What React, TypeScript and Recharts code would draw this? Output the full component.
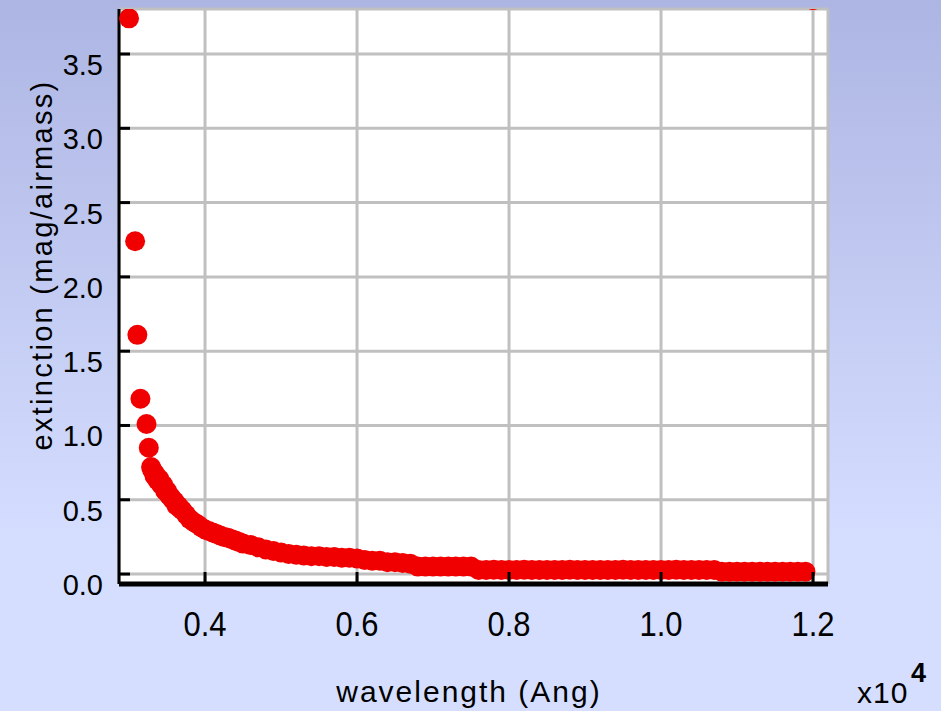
import { CartesianGrid, Scatter, ScatterChart, XAxis, YAxis } from "recharts";

// wavelength (Angstrom) and extinction (mag/airmass)
const WAVELENGTHS = [
  3000, 3080, 3110, 3150, 3230, 3260, 3290, 3305, 3320, 3335, 3350, 3375,
  3400, 3425, 3450, 3475, 3500, 3525, 3550, 3575, 3600, 3625, 3650, 3675,
  3700, 3750, 3800, 3850, 3900, 3950, 4000, 4050, 4100,
  4150, 4200, 4250, 4300, 4350, 4400, 4450, 4500, 4600, 4700, 4800, 4900,
  5000, 5100, 5200, 5300, 5400, 5500, 5600, 5700, 5800, 5900, 6000, 6100,
  6200, 6300, 6400, 6500, 6600, 6700, 6800, 6900, 7000, 7100, 7200, 7300,
  7400, 7500, 7600, 7700, 7800, 7900, 8000, 8100, 8200, 8300, 8400, 8500,
  8600, 8700, 8800, 8900, 9000, 9100, 9200, 9300, 9400, 9500, 9600, 9700,
  9800, 9900, 10000, 10100, 10200, 10300, 10400, 10500, 10600, 10700, 10800,
  10900, 11000, 11100, 11200, 11300, 11400, 11500, 11600, 11700, 11800,
  11900, 12000,
];
const EXTINCTION = [
  3.74, 2.24, 1.61, 1.18, 1.01, 0.85, 0.72, 0.7, 0.69, 0.66, 0.67, 0.63,
  0.64, 0.6, 0.6, 0.56, 0.56, 0.53, 0.52, 0.5, 0.49, 0.46, 0.46, 0.44,
  0.43, 0.4, 0.37, 0.35, 0.335, 0.315, 0.3, 0.29, 0.28,
  0.27, 0.26, 0.25, 0.245, 0.235, 0.225, 0.215, 0.205, 0.195, 0.18, 0.165,
  0.155, 0.145, 0.135, 0.13, 0.125, 0.12, 0.12, 0.115, 0.115, 0.11, 0.11,
  0.105, 0.095, 0.09, 0.09, 0.08, 0.08, 0.075, 0.07, 0.05, 0.05, 0.05, 0.05,
  0.05, 0.05, 0.05, 0.05, 0.028, 0.028, 0.029, 0.028, 0.027, 0.028, 0.029,
  0.028, 0.028, 0.027, 0.028, 0.028, 0.029, 0.028, 0.028, 0.027, 0.028,
  0.028, 0.028, 0.029, 0.028, 0.028, 0.027, 0.028, 0.028, 0.028, 0.029,
  0.028, 0.028, 0.027, 0.028, 0.028, 0.016, 0.016, 0.016, 0.016, 0.016,
  0.016, 0.016, 0.016, 0.016, 0.016, 0.016, 0.016,
];

const X_TICKS = [4000, 6000, 8000, 10000, 12000];
const Y_TICKS = [0, 0.5, 1, 1.5, 2, 2.5, 3, 3.5];
const X_TITLE = "wavelength (Ang)";
const Y_TITLE = "extinction (mag/airmass)";
const X_MULTIPLIER = "x10";
const X_EXPONENT = "4";

const FONT = "'Liberation Sans', Arial, sans-serif";
const DOT_COLOR = "#f00000";
const GRID_COLOR = "#c0c0c0";

const points = WAVELENGTHS.map((wavelength, i) => ({
  wavelength,
  extinction: EXTINCTION[i],
}));

function BottomTick({ x, y, payload }: any) {
  return (
    <g>
      <line x1={x} x2={x} y1={y} y2={y - 12} stroke="#000" strokeWidth={3} />
      <text
        transform={`translate(${x},${y + 52}) scale(1,1.12)`}
        textAnchor="middle"
        fontSize={31}
        fontFamily={FONT}
        fill="#000"
      >
        {(payload.value / 10000).toFixed(1)}
      </text>
    </g>
  );
}

function TopTick({ x, y }: any) {
  return <line x1={x} x2={x} y1={y} y2={y + 14} stroke="#000" strokeWidth={3} />;
}

function LeftTick({ x, y, payload }: any) {
  return (
    <g>
      <line x1={x} x2={x + 11} y1={y} y2={y} stroke="#000" strokeWidth={3} />
      <text
        x={x - 16}
        y={y + 21}
        textAnchor="end"
        fontSize={29}
        fontFamily={FONT}
        fill="#000"
      >
        {payload.value.toFixed(1)}
      </text>
    </g>
  );
}

function RightTick({ x, y }: any) {
  return <line x1={x} x2={x - 11} y1={y} y2={y} stroke="#000" strokeWidth={3} />;
}

export default function App() {
  return (
    <div
      style={{
        position: "fixed",
        left: 0,
        top: 0,
        width: 941,
        height: 711,
        background: "linear-gradient(to bottom, #adb5e3 0%, #d5deff 76%, #d5deff 100%)",
      }}
    >
      <ScatterChart
        width={941}
        height={711}
        margin={{ top: 9, right: 113, bottom: 0, left: 0 }}
      >
        <CartesianGrid stroke={GRID_COLOR} strokeWidth={3} fill="#ffffff" fillOpacity={1} />
        <XAxis
          type="number"
          dataKey="wavelength"
          domain={[2868, 12197]}
          allowDataOverflow
          ticks={X_TICKS}
          interval={0}
          height={127}
          tickSize={0}
          tickMargin={0}
          tickLine={false}
          axisLine={{ stroke: "#000", strokeWidth: 5 }}
          tick={<BottomTick />}
        />
        <XAxis
          xAxisId="top"
          orientation="top"
          type="number"
          domain={[2868, 12197]}
          allowDataOverflow
          ticks={X_TICKS}
          interval={0}
          height={0}
          tickSize={0}
          tickMargin={0}
          tickLine={false}
          axisLine={{ stroke: "#000", strokeWidth: 3 }}
          tick={<TopTick />}
        />
        <YAxis
          type="number"
          dataKey="extinction"
          domain={[-0.067, 3.803]}
          allowDataOverflow
          ticks={Y_TICKS}
          interval={0}
          width={119}
          tickSize={0}
          tickMargin={0}
          tickLine={false}
          axisLine={{ stroke: "#000", strokeWidth: 3 }}
          tick={<LeftTick />}
        />
        <YAxis
          yAxisId="right"
          orientation="right"
          type="number"
          domain={[-0.067, 3.803]}
          allowDataOverflow
          ticks={Y_TICKS}
          interval={0}
          width={0}
          tickSize={0}
          tickMargin={0}
          tickLine={false}
          axisLine={{ stroke: "#000", strokeWidth: 4 }}
          tick={<RightTick />}
        />
        <Scatter
          data={points}
          dataKey="extinction"
          isAnimationActive={false}
          shape={(props: any) => (
            <circle cx={props.cx} cy={props.cy} r={10} fill={DOT_COLOR} />
          )}
        />
      </ScatterChart>
      <svg
        width={941}
        height={711}
        style={{ position: "absolute", left: 0, top: 0, pointerEvents: "none" }}
      >
        <text
          x={469}
          y={702}
          textAnchor="middle"
          fontSize={30}
          letterSpacing={2}
          fontFamily={FONT}
          fill="#000"
        >
          {X_TITLE}
        </text>
        <text
          transform="translate(52,265) rotate(-90)"
          textAnchor="middle"
          fontSize={29}
          letterSpacing={2.3}
          fontFamily={FONT}
          fill="#000"
        >
          {Y_TITLE}
        </text>
        <text x={857} y={703} fontSize={30} letterSpacing={1} fontFamily={FONT} fill="#000">
          {X_MULTIPLIER}
        </text>
        <text x={911} y={682} fontSize={27} fontWeight="bold" fontFamily={FONT} fill="#000">
          {X_EXPONENT}
        </text>
      </svg>
    </div>
  );
}
